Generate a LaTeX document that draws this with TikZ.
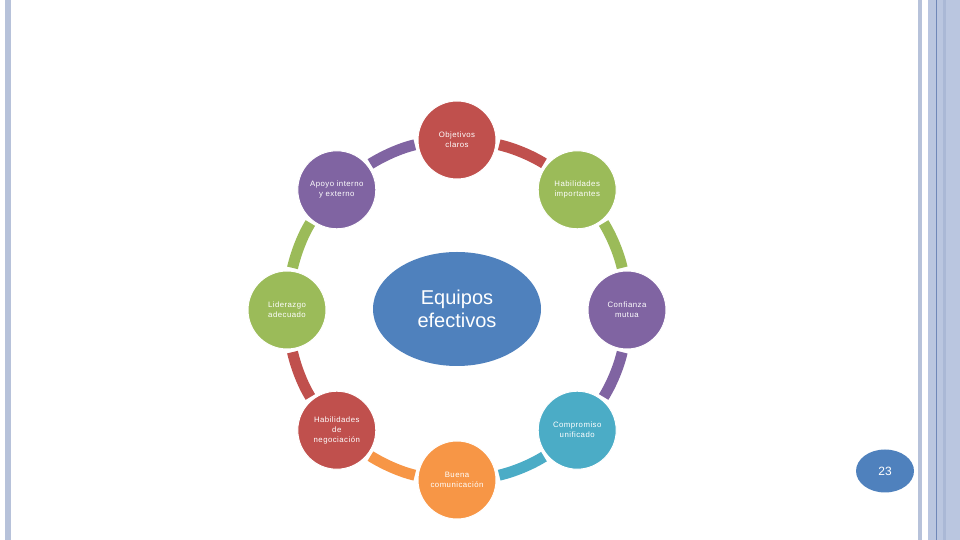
\documentclass[tikz,border=0pt]{standalone}
\usepackage{fontspec}
\setmainfont{Liberation Sans}
\definecolor{cred}{HTML}{C0504D}
\definecolor{cgreen}{HTML}{9BBB59}
\definecolor{cpurple}{HTML}{8064A2}
\definecolor{cteal}{HTML}{4BACC6}
\definecolor{corange}{HTML}{F79646}
\definecolor{cblue}{HTML}{4F81BD}
\definecolor{barA}{HTML}{B7C2DA}
\definecolor{barB}{HTML}{BAC6E0}
\definecolor{barC}{HTML}{6F87B8}
\definecolor{barD}{HTML}{AAB8D6}
\tikzset{
  item/.style={circle, minimum size=78pt, inner sep=0pt, draw=white, line width=1pt,
    text=white, align=center, font=\fontsize{7.8}{10}\selectfont\addfontfeatures{LetterSpace=6}},
  ring/.style={line width=11pt, line cap=butt, shorten >=3pt, shorten <=3pt},
  hub/.style={ellipse, minimum width=168pt, minimum height=114pt, inner sep=0pt,
    fill=cblue, text=white, align=center, font=\fontsize{20}{23}\selectfont},
  pagenum/.style={ellipse, minimum width=58pt, minimum height=43pt, inner sep=0pt,
    fill=cblue, text=white, font=\fontsize{12}{14}\selectfont}
}
\usetikzlibrary{shapes.geometric}
\begin{document}
\begin{tikzpicture}[x=1pt, y=1pt]
\useasboundingbox (0,0) rectangle (960,540);
\fill[white] (0,0) rectangle (960,540);
% side bands
\fill[barA] (5,0) rectangle (11,540);
\fill[barA] (918,0) rectangle (922,540);
\fill[barB] (928,0) rectangle (960,540);
\fill[barC] (936,0) rectangle (937,540);
\fill[barD] (943,0) rectangle (946,540);
% centre
\coordinate (c) at (457,230);
\node[hub] (hub) at (457,231) {Equipos\\efectivos};
% ring of items
\node[item, fill=cred]    (obj) at ([shift={(90:170)}]c)   {Objetivos\\claros};
\node[item, fill=cgreen]  (hab) at ([shift={(45:170)}]c)   {Habilidades\\importantes};
\node[item, fill=cpurple] (con) at ([shift={(0:170)}]c)    {Confianza\\mutua};
\node[item, fill=cteal]   (com) at ([shift={(-45:170)}]c)  {Compromiso\\unificado};
\node[item, fill=corange] (bue) at ([shift={(-90:170)}]c)  {Buena\\comunicación};
\node[item, fill=cred]    (neg) at ([shift={(-135:170)}]c) {Habilidades\\de\\negociación};
\node[item, fill=cgreen]  (lid) at ([shift={(180:170)}]c)  {Liderazgo\\adecuado};
\node[item, fill=cpurple] (apo) at ([shift={(135:170)}]c)  {Apoyo interno\\y externo};
% connecting arcs
\foreach \a/\b/\p/\col [evaluate=\p as \xa using \p-96.6,
                        evaluate=\p as \xb using \p-103.2,
                        evaluate=\p as \xc using \p+51.6,
                        evaluate=\p as \xd using \p+58.2] in
  {obj/hab/90/cred, hab/con/45/cgreen, con/com/0/cpurple, com/bue/-45/cteal,
   bue/neg/-90/corange, neg/lid/-135/cred, lid/apo/180/cgreen, apo/obj/135/cpurple}
{
  \draw[ring, draw=\col] (\a.\xa) to[out=\xb, in=\xd, looseness=0.86] (\b.\xc);
}
% page number
\node[pagenum] (pg) at (885,69) {23};
\end{tikzpicture}
\end{document}
